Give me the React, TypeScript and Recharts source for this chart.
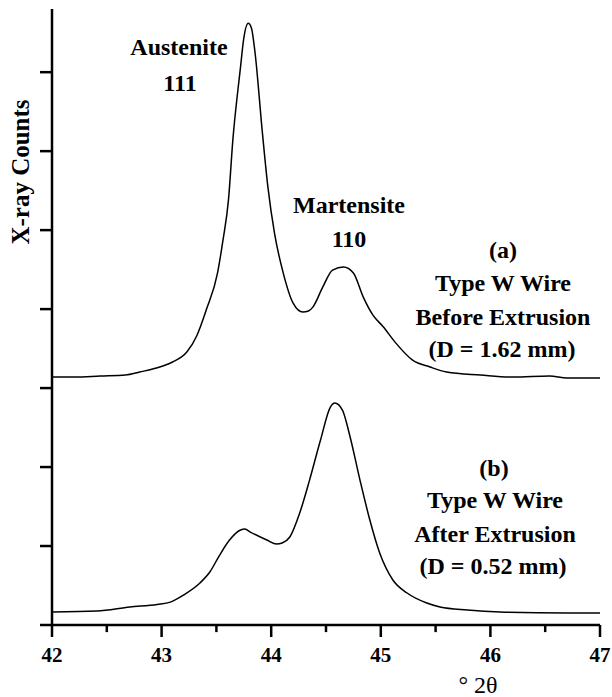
import React from 'react';
import { LineChart, Line, XAxis, YAxis, ReferenceLine } from 'recharts';

// Curve (a): Type W wire before extrusion (offset upward)
const angleA = [42.0, 42.21, 42.44, 42.67, 42.8, 42.99, 43.1, 43.23, 43.32, 43.41, 43.51, 43.56, 43.61, 43.65, 43.72, 43.75, 43.79, 43.82, 43.85, 43.92, 43.97, 44.03, 44.11, 44.2, 44.29, 44.34, 44.38, 44.47, 44.56, 44.66, 44.75, 44.84, 44.93, 45.02, 45.13, 45.29, 45.45, 45.6, 45.91, 46.21, 46.54, 46.7, 47.0];
const countsA = [3.139, 3.139, 3.152, 3.165, 3.203, 3.27, 3.33, 3.456, 3.66, 4.0, 4.456, 4.873, 5.38, 6.139, 7.063, 7.43, 7.62, 7.557, 7.278, 6.228, 5.544, 4.962, 4.456, 4.076, 3.962, 3.975, 4.025, 4.278, 4.494, 4.532, 4.456, 4.152, 3.92, 3.78, 3.582, 3.354, 3.266, 3.203, 3.165, 3.139, 3.152, 3.127, 3.127];

// Curve (b): Type W wire after extrusion
const angleB = [42.0, 42.41, 42.71, 42.96, 43.08, 43.2, 43.35, 43.44, 43.53, 43.62, 43.72, 43.76, 43.81, 43.96, 44.05, 44.1, 44.17, 44.26, 44.35, 44.45, 44.54, 44.58, 44.65, 44.72, 44.81, 44.9, 44.99, 45.11, 45.24, 45.42, 45.54, 45.79, 46.09, 46.7, 47.0];
const countsB = [0.165, 0.177, 0.228, 0.26, 0.29, 0.38, 0.532, 0.671, 0.886, 1.076, 1.203, 1.215, 1.177, 1.076, 1.025, 1.038, 1.114, 1.418, 1.835, 2.342, 2.759, 2.81, 2.722, 2.38, 1.835, 1.329, 0.911, 0.57, 0.405, 0.278, 0.228, 0.19, 0.165, 0.152, 0.152];

const xMajorTicks = [42, 43, 44, 45, 46, 47];
const xMinorTicks = [42.5, 43.5, 44.5, 45.5, 46.5];
const yTicks = [0, 1, 2, 3, 4, 5, 6, 7];

const dataA = angleA.map((x, i) => ({ x, y: countsA[i] }));
const dataB = angleB.map((x, i) => ({ x, y: countsB[i] }));

const FONT = '"Liberation Serif", "Times New Roman", serif';
const MINOR_LEN = 0.09; // minor tick length in y units (~7px)

const renderYTick = () => <g />;

const T = (p: { x: number; y: number; children: React.ReactNode; bold?: boolean; size?: number }) => (
  <text
    x={p.x}
    y={p.y}
    textAnchor="middle"
    fontFamily={FONT}
    fontWeight={p.bold === false ? 'normal' : 'bold'}
    fontSize={p.size ?? 24}
    fill="#000"
  >
    {p.children}
  </text>
);

export default function App() {
  return (
    <div style={{ position: 'absolute', left: 0, top: 0, width: 612, height: 697, background: '#fff' }}>
      <svg width={612} height={697} style={{ position: 'absolute', left: 0, top: 0 }}>
        <text
          x={29}
          y={172}
          transform="rotate(-90, 29, 172)"
          textAnchor="middle"
          fontFamily={FONT}
          fontWeight="bold"
          fontSize={25}
          fill="#000"
        >
          X-ray Counts
        </text>
        <T x={179} y={55}>Austenite</T>
        <T x={180} y={91}>111</T>
        <T x={349} y={213}>Martensite</T>
        <T x={349} y={247}>110</T>
        <T x={503} y={258}>(a)</T>
        <T x={503} y={291}>Type W Wire</T>
        <T x={503} y={325}>Before Extrusion</T>
        <T x={502} y={357}>(D = 1.62 mm)</T>
        <T x={494} y={476}>(b)</T>
        <T x={495} y={508}>Type W Wire</T>
        <T x={495} y={542}>After Extrusion</T>
        <T x={493} y={574}>(D = 0.52 mm)</T>
        <T x={478} y={693} bold={false}>° 2θ</T>
      </svg>
      <div style={{ position: 'absolute', left: 0, top: 0 }}>
        <LineChart width={612} height={697} margin={{ top: 9, right: 12, left: 40, bottom: 0 }}>
          <XAxis
            dataKey="x"
            type="number"
            domain={[42, 47]}
            ticks={xMajorTicks}
            interval={0}
            height={72}
            tickSize={12}
            tickMargin={10}
            tick={{ fill: '#000', fontSize: 21, fontWeight: 700, fontFamily: FONT }}
            tickLine={{ stroke: '#000', strokeWidth: 2.5 }}
            axisLine={{ stroke: '#000', strokeWidth: 2.5 }}
          />
          <YAxis
            type="number"
            domain={[0, 7.8]}
            ticks={yTicks}
            interval={0}
            width={12}
            tick={renderYTick}
            tickSize={12}
            tickLine={{ stroke: '#000', strokeWidth: 2.5 }}
            axisLine={{ stroke: '#000', strokeWidth: 2.5 }}
          />
          {xMinorTicks.map((t) => (
            <ReferenceLine
              key={t}
              segment={[{ x: t, y: 0 }, { x: t, y: -MINOR_LEN }]}
              ifOverflow="visible"
              stroke="#000"
              strokeWidth={2.5}
            />
          ))}
          <Line data={dataA} dataKey="y" type="monotone" stroke="#000" strokeWidth={1.5} dot={false} isAnimationActive={false} />
          <Line data={dataB} dataKey="y" type="monotone" stroke="#000" strokeWidth={1.5} dot={false} isAnimationActive={false} />
        </LineChart>
      </div>
    </div>
  );
}
